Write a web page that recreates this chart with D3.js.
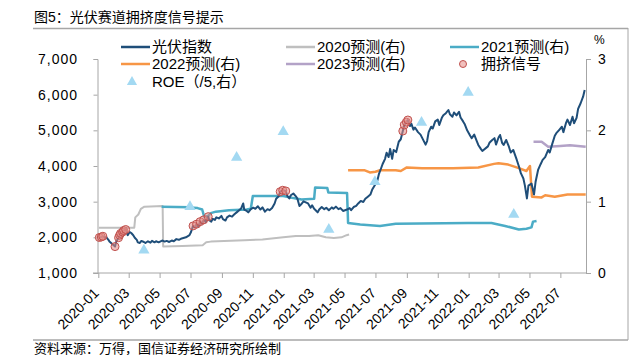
<!DOCTYPE html>
<html><head><meta charset="utf-8">
<script src="https://cdn.jsdelivr.net/npm/d3@7"></script>
<style>
body{margin:0;background:#fff;}
text{font-family:"Liberation Sans","Noto Sans CJK SC",sans-serif;}
</style></head>
<body><svg id="c" width="634" height="355"></svg>
<script>
// ---------- DATA ----------
const indexData = [
["2020-01-02",1990],["2020-01-07",2010],["2020-01-10",2030],["2020-01-14",1990],["2020-01-17",2000],["2020-01-21",1930],["2020-01-23",1880],
["2020-02-03",1740],["2020-02-05",1860],["2020-02-07",1920],["2020-02-10",1990],["2020-02-12",2060],["2020-02-14",2110],["2020-02-18",2150],["2020-02-20",2190],["2020-02-24",2220],["2020-02-26",2130],["2020-02-28",2060],
["2020-03-03",2150],["2020-03-06",2120],["2020-03-10",2060],["2020-03-13",1990],["2020-03-17",1930],["2020-03-19",1860],["2020-03-23",1840],["2020-03-26",1900],["2020-03-31",1870],
["2020-04-03",1840],["2020-04-08",1890],["2020-04-13",1850],["2020-04-16",1900],["2020-04-21",1860],["2020-04-24",1890],["2020-04-29",1860],
["2020-05-06",1910],["2020-05-11",1880],["2020-05-15",1900],["2020-05-20",1870],["2020-05-25",1910],["2020-05-29",1890],
["2020-06-03",1950],["2020-06-08",1930],["2020-06-12",1960],["2020-06-17",1980],["2020-06-22",2000],["2020-06-29",2060],
["2020-07-02",2150],["2020-07-06",2320],["2020-07-09",2280],["2020-07-13",2370],["2020-07-16",2300],["2020-07-20",2440],["2020-07-23",2380],["2020-07-27",2490],["2020-07-31",2430],
["2020-08-05",2580],["2020-08-07",2480],["2020-08-11",2440],["2020-08-14",2520],["2020-08-18",2490],["2020-08-21",2560],["2020-08-26",2530],["2020-08-31",2600],
["2020-09-03",2510],["2020-09-08",2470],["2020-09-11",2560],["2020-09-16",2610],["2020-09-21",2580],["2020-09-25",2640],["2020-09-30",2700],
["2020-10-09",2810],["2020-10-13",2950],["2020-10-15",2780],["2020-10-20",2740],["2020-10-23",2700],["2020-10-28",2790],
["2020-11-02",2830],["2020-11-06",2800],["2020-11-11",2870],["2020-11-16",2780],["2020-11-20",2840],["2020-11-25",2720],["2020-11-30",2790],
["2020-12-04",2760],["2020-12-09",2820],["2020-12-14",2950],["2020-12-17",3080],["2020-12-22",3150],["2020-12-25",3280],["2020-12-30",3320],
["2021-01-05",3300],["2021-01-08",3160],["2021-01-12",3090],["2021-01-15",3180],["2021-01-20",3230],["2021-01-25",3150],["2021-01-28",3080],
["2021-02-01",2880],["2021-02-04",2920],["2021-02-09",3010],["2021-02-18",2950],["2021-02-23",2830],["2021-02-26",2900],
["2021-03-02",2800],["2021-03-05",2760],["2021-03-09",2700],["2021-03-12",2780],["2021-03-17",2850],["2021-03-22",2790],["2021-03-26",2830],["2021-03-31",2760],
["2021-04-06",2840],["2021-04-09",2800],["2021-04-14",2860],["2021-04-19",2790],["2021-04-23",2820],["2021-04-28",2740],
["2021-05-06",2780],["2021-05-11",2820],["2021-05-14",2760],["2021-05-19",2850],["2021-05-24",2880],["2021-05-28",2950],
["2021-06-02",3020],["2021-06-07",2990],["2021-06-11",3080],["2021-06-16",3140],["2021-06-21",3200],["2021-06-25",3350],["2021-06-30",3470],
["2021-07-05",3600],["2021-07-08",3780],["2021-07-12",3930],["2021-07-15",4050],["2021-07-20",4200],["2021-07-23",4370],["2021-07-27",4250],["2021-07-30",4480],
["2021-08-03",4200],["2021-08-06",4450],["2021-08-11",4390],["2021-08-16",4680],["2021-08-20",4750],["2021-08-24",4980],["2021-08-27",5150],["2021-08-31",5230],
["2021-09-03",5290],["2021-09-07",5120],["2021-09-10",5180],["2021-09-14",5020],["2021-09-17",5080],["2021-09-23",4950],["2021-09-28",4880],
["2021-10-08",4600],["2021-10-11",4700],["2021-10-14",4950],["2021-10-19",5100],["2021-10-22",5050],["2021-10-27",5250],
["2021-11-01",5300],["2021-11-04",5150],["2021-11-09",5350],["2021-11-12",5420],["2021-11-17",5480],["2021-11-22",5570],["2021-11-25",5450],["2021-11-30",5380],
["2021-12-03",5500],["2021-12-08",5420],["2021-12-13",5520],["2021-12-16",5360],["2021-12-21",5250],["2021-12-24",5180],["2021-12-29",5000],
["2022-01-04",4850],["2022-01-07",4780],["2022-01-12",4880],["2022-01-17",4700],["2022-01-20",4590],["2022-01-25",4480],["2022-01-28",4420],
["2022-02-08",4550],["2022-02-11",4650],["2022-02-16",4720],["2022-02-21",4780],["2022-02-24",4600],
["2022-03-01",4800],["2022-03-04",4870],["2022-03-08",4650],["2022-03-11",4590],["2022-03-16",4730],["2022-03-21",4560],["2022-03-25",4380],["2022-03-30",4450],
["2022-04-06",4170],["2022-04-11",3950],["2022-04-14",3800],["2022-04-19",3650],["2022-04-22",3450],["2022-04-26",3090],["2022-04-29",3450],
["2022-05-05",3510],["2022-05-10",3200],["2022-05-13",3550],["2022-05-18",3890],["2022-05-23",4050],["2022-05-27",4170],
["2022-06-01",4250],["2022-06-07",4450],["2022-06-10",4380],["2022-06-15",4620],["2022-06-20",4850],["2022-06-23",4920],["2022-06-28",5000],
["2022-07-04",5100],["2022-07-07",4950],["2022-07-12",5200],["2022-07-15",5300],["2022-07-20",5150],["2022-07-25",5380],["2022-07-28",5200],
["2022-08-02",5350],["2022-08-05",5600],["2022-08-10",5760],["2022-08-15",5950],["2022-08-18",6130]
];
const f2020 = [
["2020-01-02",0.635],["2020-03-12",0.635],["2020-03-14",0.78],["2020-03-20",0.82],["2020-03-25",0.90],["2020-04-01",0.93],["2020-05-07",0.94],
["2020-05-08",0.37],["2020-06-15",0.38],["2020-07-25",0.39],["2020-08-01",0.43],["2020-08-10",0.44],["2020-10-15",0.46],["2020-11-20",0.47],
["2020-12-31",0.50],["2021-01-25",0.52],["2021-02-20",0.52],["2021-03-10",0.53],["2021-03-25",0.50],["2021-04-10",0.49],["2021-04-25",0.50],
["2021-05-05",0.53],["2021-05-10",0.54]
];
const f2021 = [
["2020-05-05",0.93],["2020-06-30",0.92],["2020-07-15",0.91],["2020-07-24",0.89],["2020-07-28",0.79],["2020-08-05",0.80],["2020-08-10",0.84],
["2020-08-20",0.86],["2020-09-15",0.88],["2020-10-20",0.89],["2020-10-28",0.90],["2020-11-01",1.08],["2020-12-31",1.08],["2021-01-20",1.05],
["2021-02-05",1.03],["2021-03-02",1.04],["2021-03-04",1.20],["2021-03-28",1.19],["2021-03-30",1.13],["2021-05-06",1.12],["2021-05-08",0.70],
["2021-06-01",0.68],["2021-07-10",0.66],["2021-08-10",0.69],["2021-12-31",0.70],["2022-02-15",0.70],["2022-03-14",0.66],["2022-04-10",0.61],
["2022-04-25",0.62],["2022-05-05",0.64],["2022-05-08",0.72],["2022-05-15",0.73]
];
const f2022 = [
["2021-05-08",1.44],["2021-06-10",1.44],["2021-06-20",1.41],["2021-07-01",1.42],["2021-07-10",1.44],["2021-08-10",1.44],["2021-08-20",1.43],
["2021-09-01",1.48],["2021-10-01",1.47],["2021-12-01",1.47],["2022-01-20",1.48],["2022-02-20",1.53],["2022-03-01",1.54],["2022-03-20",1.52],
["2022-04-10",1.47],["2022-04-25",1.43],["2022-05-02",1.50],["2022-05-06",1.07],["2022-05-25",1.06],["2022-06-01",1.09],["2022-06-20",1.07],
["2022-07-15",1.10],["2022-08-20",1.10]
];
const f2023 = [
["2022-05-09",1.84],["2022-05-25",1.84],["2022-06-07",1.77],["2022-07-01",1.78],["2022-07-20",1.79],["2022-08-20",1.77]
];
const roe = [
["2020-03-31",0.32],["2020-06-30",0.93],["2020-09-30",1.62],["2020-12-31",1.98],["2021-03-31",0.61],
["2021-06-30",1.28],["2021-09-30",2.11],["2021-12-31",2.53],["2022-03-31",0.82]
];
const signals = [
["2020-01-03",1995],["2020-01-07",2010],["2020-01-10",2030],["2020-02-03",1740],["2020-02-10",1990],["2020-02-12",2060],
["2020-02-14",2110],["2020-02-18",2150],["2020-02-20",2190],["2020-02-24",2220],
["2020-07-06",2320],["2020-07-13",2370],["2020-07-20",2440],["2020-07-27",2490],["2020-08-05",2580],
["2020-12-25",3280],["2020-12-30",3320],["2021-01-05",3300],
["2021-08-24",4980],["2021-08-27",5150],["2021-08-31",5230],["2021-09-03",5290]
];
const leftTicks = [1000,2000,3000,4000,5000,6000,7000];
const rightTicks = [0,1,2,3];
const xTickDates = ["2020-01","2020-03","2020-05","2020-07","2020-09","2020-11","2021-01","2021-03","2021-05","2021-07","2021-09","2021-11","2022-01","2022-03","2022-05","2022-07"];
const legendLabels = ["光伏指数","2020预测(右)","2021预测(右)","2022预测(右)","2023预测(右)","拥挤信号","ROE（/5,右）"];
const titleText = "图5：光伏赛道拥挤度信号提示";
const sourceText = "资料来源：万得，国信证券经济研究所绘制";

// ---------- CHART ----------
const parse = d3.timeParse("%Y-%m-%d");
const svg = d3.select("#c");
const axisColor = "#A6A6A6";
const x = d3.scaleTime().domain([parse("2020-01-01"), parse("2022-08-20")]).range([98.3, 585.7]);
const yL = d3.scaleLinear().domain([1000,7000]).range([273,59]);
const yR = d3.scaleLinear().domain([0,3]).range([273,59]);

// frame
svg.append("line").attr("x1",33).attr("x2",628).attr("y1",28.5).attr("y2",28.5).attr("stroke","#A6A6A6").attr("stroke-width",1.5);
svg.append("line").attr("x1",628).attr("x2",628).attr("y1",28).attr("y2",340).attr("stroke","#A6A6A6").attr("stroke-width",1);
svg.append("line").attr("x1",33).attr("x2",628).attr("y1",340).attr("y2",340).attr("stroke","#A6A6A6").attr("stroke-width",1.5);

svg.append("text").attr("x",34).attr("y",22).attr("font-size",14).attr("fill","#000").text(titleText);
svg.append("text").attr("x",34).attr("y",353).attr("font-size",13).attr("fill","#000").text(sourceText);

// left axis
const gL = svg.append("g").attr("transform","translate(97.5,0)")
  .call(d3.axisLeft(yL).tickValues(leftTicks).tickSize(4).tickPadding(15.5).tickFormat(d3.format(",")));
// right axis
const gR = svg.append("g").attr("transform","translate(586,0)")
  .call(d3.axisRight(yR).tickValues(rightTicks).tickSize(5).tickPadding(7).tickFormat(d3.format("d")));
// x axis
const xTicks = xTickDates.map(s=>parse(s+"-01"));
const gX = svg.append("g").attr("transform","translate(0,273)")
  .call(d3.axisBottom(x).tickValues(xTicks).tickSize(5).tickFormat(d3.timeFormat("%Y-%m")));
gX.select(".domain").attr("d","M93,0H586");
[gL,gR,gX].forEach(g=>{
  g.selectAll(".domain").attr("stroke",axisColor);
  g.selectAll(".tick line").attr("stroke",axisColor);
  g.selectAll(".tick text").attr("fill","#000").attr("font-size",14).attr("font-family",'"Liberation Sans","Noto Sans CJK SC",sans-serif');
});
gL.selectAll(".tick text").attr("letter-spacing","1px");
gX.selectAll(".tick text").attr("text-anchor","end").attr("x",0).attr("y",0).attr("dy",0)
  .attr("transform","translate(1,21) rotate(-45)");
svg.append("text").attr("x",594).attr("y",44).attr("font-size",12).text("%");

// series
const lineL = d3.line().x(d=>x(parse(d[0]))).y(d=>yL(d[1]));
const lineR = d3.line().x(d=>x(parse(d[0]))).y(d=>yR(d[1]));
const series = [
  {data:f2020,color:"#BFBFBF",w:2},
  {data:f2021,color:"#4BACC6",w:2.5},
  {data:f2022,color:"#F79646",w:2.5},
  {data:f2023,color:"#B3A2C7",w:2.5}
];
series.forEach(s=>svg.append("path").attr("d",lineR(s.data)).attr("fill","none").attr("stroke",s.color).attr("stroke-width",s.w).attr("stroke-linejoin","round"));
svg.append("path").attr("d",lineL(indexData)).attr("fill","none").attr("stroke","#1F4E79").attr("stroke-width",2).attr("stroke-linejoin","round");
svg.append("g").selectAll("circle").data(signals).join("circle")
  .attr("cx",d=>x(parse(d[0]))).attr("cy",d=>yL(d[1])).attr("r",4)
  .attr("fill","rgba(230,140,135,0.55)").attr("stroke","#C0504D").attr("stroke-width",1);
const tri = d3.symbol(d3.symbolTriangle,55);
svg.append("g").selectAll("path").data(roe).join("path")
  .attr("transform",d=>`translate(${x(parse(d[0]))},${yR(d[1])})`).attr("d",tri).attr("fill","#A3D9F2");

// legend
const lg = svg.append("g").attr("font-size",15);
const legendItems = [
  {t:legendLabels[0],type:"line",c:"#1F4E79",x:121,y:47},
  {t:legendLabels[1],type:"line",c:"#BFBFBF",x:286,y:47},
  {t:legendLabels[2],type:"line",c:"#4BACC6",x:450,y:47},
  {t:legendLabels[3],type:"line",c:"#F79646",x:121,y:64},
  {t:legendLabels[4],type:"line",c:"#B3A2C7",x:286,y:64},
  {t:legendLabels[5],type:"circle",x:450,y:64},
  {t:legendLabels[6],type:"tri",x:121,y:82}
];
legendItems.forEach(it=>{
  if(it.type==="line") lg.append("line").attr("x1",it.x).attr("x2",it.x+29).attr("y1",it.y).attr("y2",it.y).attr("stroke",it.c).attr("stroke-width",2.5);
  else if(it.type==="circle") lg.append("circle").attr("cx",it.x+13).attr("cy",it.y).attr("r",3.5).attr("fill","rgba(230,140,135,0.55)").attr("stroke","#C0504D");
  else lg.append("path").attr("transform",`translate(${it.x+11},${it.y})`).attr("d",d3.symbol(d3.symbolTriangle,45)).attr("fill","#A3D9F2");
  lg.append("text").attr("x",it.x+31).attr("y",it.y).attr("dy","0.36em").attr("fill","#000").text(it.t);
});
</script></body></html>
